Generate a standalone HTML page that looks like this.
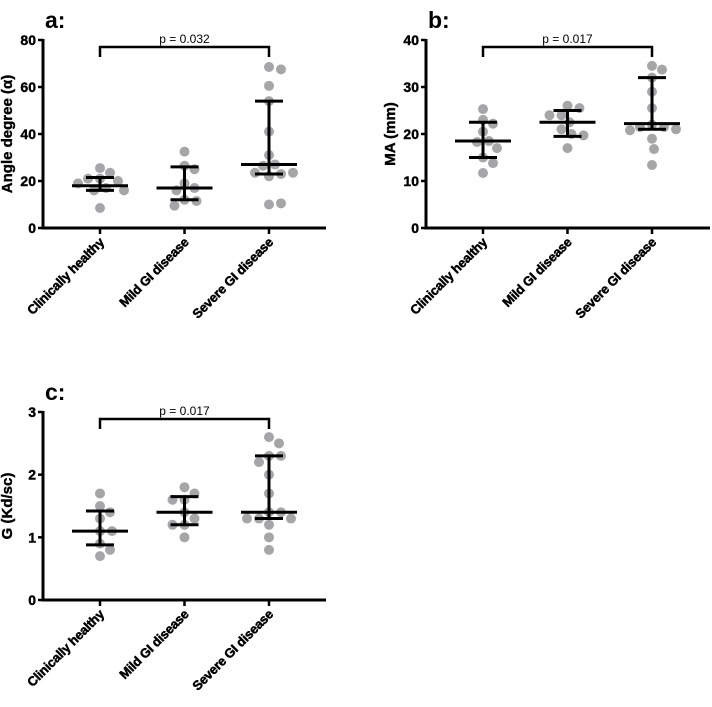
<!DOCTYPE html>
<html><head><meta charset="utf-8"><style>
body{margin:0;background:#fff}
svg text{font-family:"Liberation Sans",Arial,sans-serif}
</style></head><body>
<svg id="s" width="712" height="702" xmlns="http://www.w3.org/2000/svg"></svg>
<script>
const categories=["Clinically healthy","Mild GI disease","Severe GI disease"];
const aValues=[[25.5,23.5,21,21,20,19,17,16,16,8.5],[32.5,26.5,25,19,17,16,12,11.5,9.5],[68.5,67.5,60.5,54,41,31,27,26.5,23,23.5,22,23.5,10,10.5]];
const aStats=[[16,18,21.5],[12,17,26],[23,27,54]];
const bValues=[[25.3,23,22.2,20.5,18.5,18.3,17,15,13.8,11.7],[26,25.5,24,24,22.5,21,20,19.7,17],[34.5,33.7,32,29,25.5,22,21.5,21.5,21,20.8,19,16.8,13.4]];
const bStats=[[15,18.5,22.5],[19.5,22.5,25],[21,22.2,32]];
const cValues=[[1.7,1.5,1.4,1.3,1.1,1.1,0.9,0.8,0.7],[1.8,1.7,1.6,1.6,1.4,1.3,1.2,1.2,1.0],[2.6,2.5,2.3,2.3,2.2,2.0,1.7,1.4,1.4,1.3,1.3,1.3,1.2,1.0,0.8]];
const cStats=[[0.88,1.1,1.42],[1.2,1.4,1.65],[1.3,1.4,2.3]];
const aTicks=[0,20,40,60,80],bTicks=[0,10,20,30,40],cTicks=[0,1,2,3];
const pLabels=["p = 0.032","p = 0.017","p = 0.017"];
const svg=document.getElementById('s');
const NS="http://www.w3.org/2000/svg";
function mk(t,at,p){const e=document.createElementNS(NS,t);for(const k in at)e.setAttribute(k,at[k]);(p||svg).appendChild(e);return e;}
function panel(id,letter,ox,oy,ymax,ticks,vals,stats,ylabel,pl,xr){
 const g=mk('g',{});
 
 
 const x0=ox,yb=oy+188,yt=oy;
 const y=v=>yb-(v/ymax)*(yb-yt);
 const cx=i=>x0+57+i*84.5;
 const t=mk('text',{x:x0+2,y:oy-12,'font-size':23,'font-weight':'bold'},g);t.textContent=letter+':';
 
 mk('line',{x1:x0,y1:yt-1,x2:x0,y2:yb+1.5,stroke:'#000','stroke-width':3},g);
 mk('line',{x1:x0-1.5,y1:yb,x2:xr,y2:yb,stroke:'#000','stroke-width':3},g);
 ticks.forEach(v=>{mk('line',{x1:x0-5,y1:y(v),x2:x0,y2:y(v),stroke:'#000','stroke-width':2.5},g);
  const tt=mk('text',{x:x0-7,y:y(v)+5,'font-size':14,'font-weight':'bold','text-anchor':'end',stroke:'#000','stroke-width':0.4},g);tt.textContent=v;
  });
 const yl=mk('text',{transform:`translate(${x0-31},${(yt+yb)/2}) rotate(-90)`,'font-size':15,'font-weight':'bold','text-anchor':'middle',stroke:'#000','stroke-width':0.4},g);yl.textContent=ylabel;
 
 categories.forEach((c,i)=>{mk('line',{x1:cx(i),y1:yb,x2:cx(i),y2:yb+6,stroke:'#000','stroke-width':2.5},g);
  const tl=mk('text',{transform:`translate(${cx(i)+5},${yb+15}) rotate(-45)`,'font-size':13,'font-weight':'bold','text-anchor':'end',stroke:'#000','stroke-width':0.5,'letter-spacing':'-0.2'},g);tl.textContent=c;
  
  const placed=[];const r=5,d=10.5;
  vals[i].forEach(v=>{const py=y(v);let best=0;
   for(let k=0;k<40;k++){const off=(k%2?1:-1)*Math.ceil(k/2)*2;if(placed.every(p=>Math.hypot(p[0]-off,p[1]-py)>=d)){best=off;break;}}
   placed.push([best,py]);
   const dot=mk('circle',{cx:cx(i)+best,cy:py,r:r,fill:'#a6a6a8'},g);
   });
  const s=stats[i];
  mk('line',{x1:cx(i),y1:y(s[0]),x2:cx(i),y2:y(s[2]),stroke:'#000','stroke-width':3},g);
  mk('line',{x1:cx(i)-14,y1:y(s[0]),x2:cx(i)+14,y2:y(s[0]),stroke:'#000','stroke-width':3},g);
  mk('line',{x1:cx(i)-14,y1:y(s[2]),x2:cx(i)+14,y2:y(s[2]),stroke:'#000','stroke-width':3},g);
  const m=mk('line',{x1:cx(i)-28,y1:y(s[1]),x2:cx(i)+28,y2:y(s[1]),stroke:'#000','stroke-width':3},g);
  
 });
 const by=oy+7;
 mk('path',{d:`M${cx(0)},${by+10}V${by}H${cx(2)}V${by+10}`,fill:'none',stroke:'#000','stroke-width':2.5},g);
 const pt=mk('text',{x:(cx(0)+cx(2))/2,y:by-4,'font-size':12,'text-anchor':'middle'},g);pt.textContent=pl;
 
}
panel('a','a',43,40,80,aTicks,aValues,aStats,'Angle degree (α)',pLabels[0],326);
panel('b','b',426,40,40,bTicks,bValues,bStats,'MA (mm)',pLabels[1],710);
panel('c','c',43,412,3,cTicks,cValues,cStats,'G (Kd/sc)',pLabels[2],326);
</script>
</body></html>
